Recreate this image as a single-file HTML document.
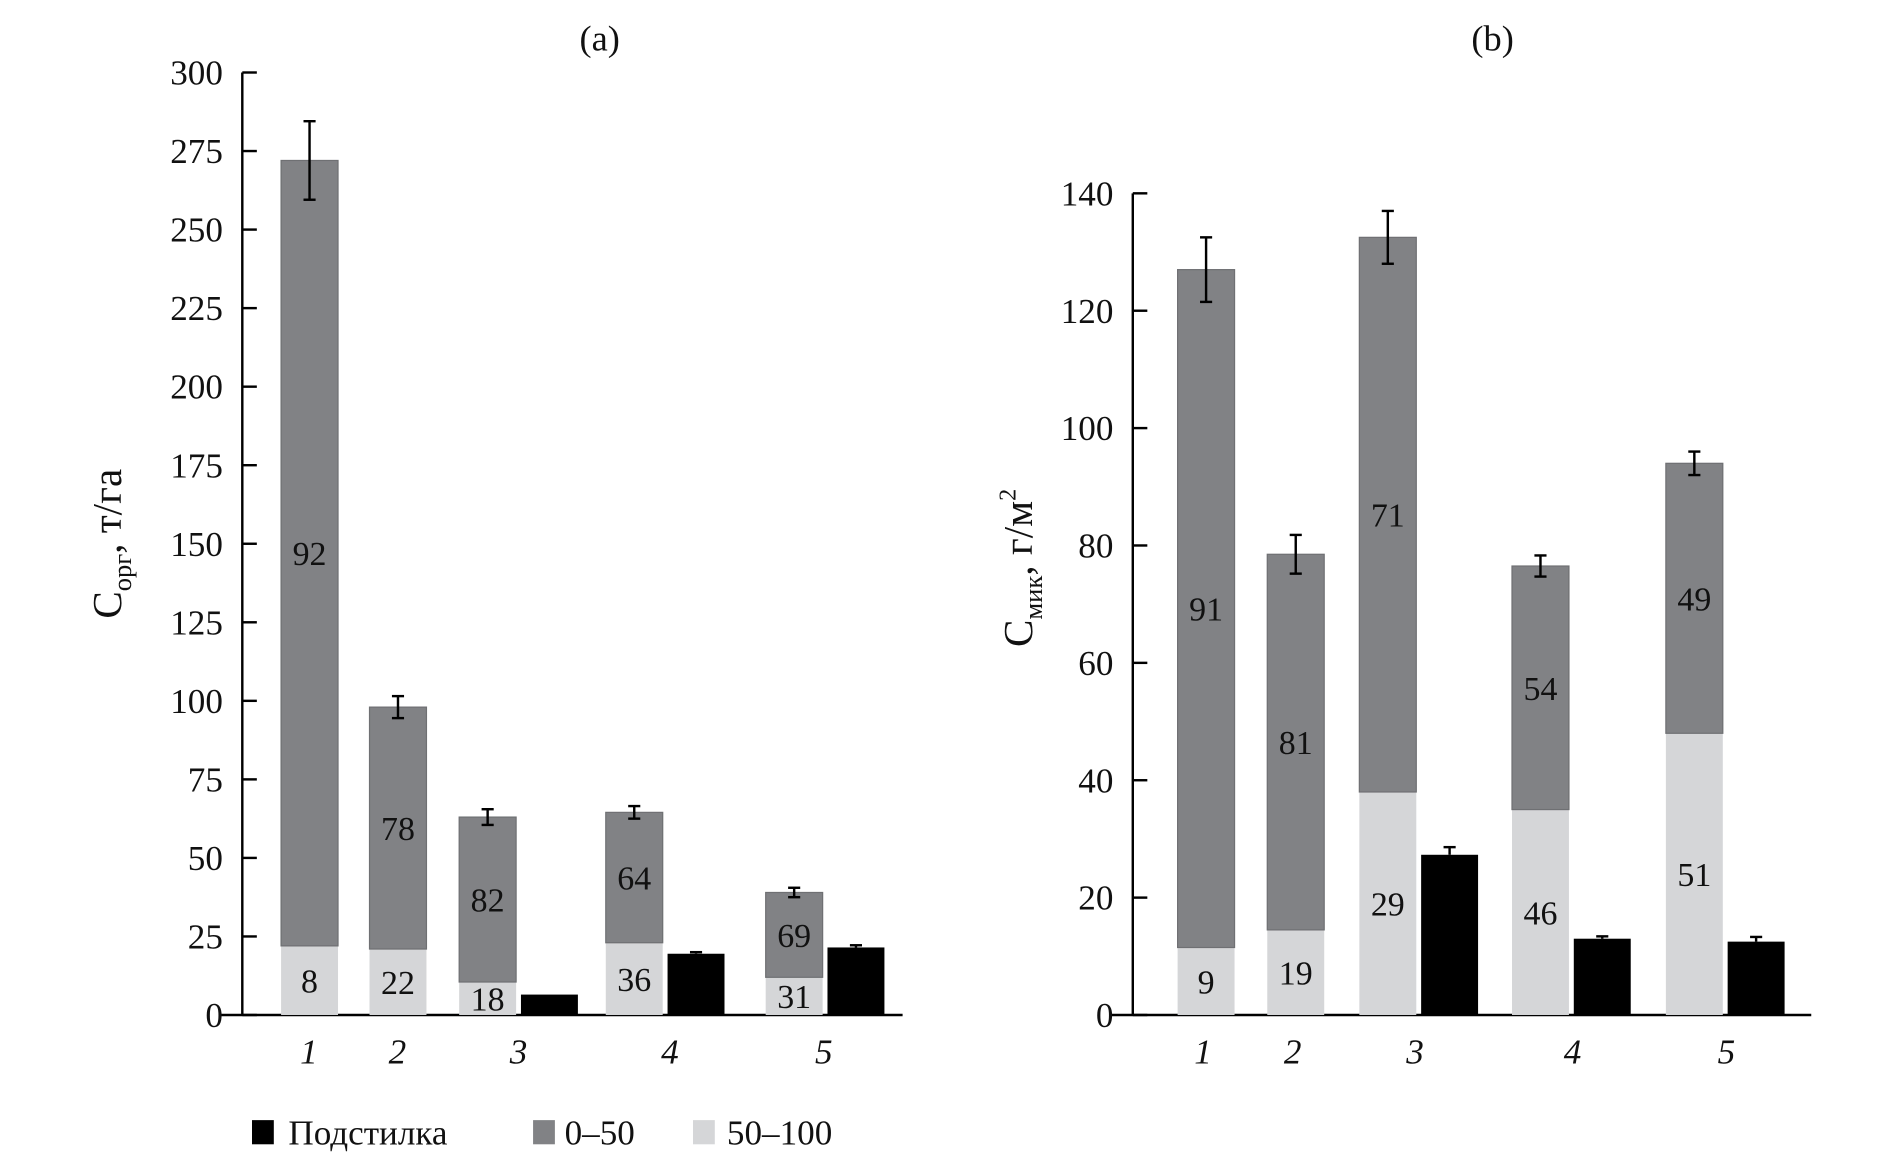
<!DOCTYPE html>
<html><head><meta charset="utf-8"><style>
html,body{margin:0;padding:0;background:#fff;}
svg{display:block;}
text{font-family:"Liberation Serif",serif;fill:#111;}
</style></head><body>
<svg id="chart" width="1890" height="1160" viewBox="0 0 1560 960" preserveAspectRatio="none" xmlns="http://www.w3.org/2000/svg"></svg>
<script>
// Panel (a)
const catsA = ["1","2","3","4","5"];
const deepA = [22, 21, 10.5, 23, 12];        // 50-100 cm
const totalA = [272, 98, 63, 64.5, 39];      // top of stack
const errA = [12.5, 3.5, 2.5, 2, 1.5];
const litterA = [null, null, 6.5, 19.5, 21.5];
const litterErrA = [0, 0, 0, 0.5, 0.7];
const topLblA = ["92","78","82","64","69"];
const botLblA = ["8","22","18","36","31"];
const ticksA = [0,25,50,75,100,125,150,175,200,225,250,275,300];
// Panel (b)
const catsB = ["1","2","3","4","5"];
const deepB = [11.5, 14.5, 38, 35, 48];
const totalB = [127, 78.5, 132.5, 76.5, 94];
const errB = [5.5, 3.3, 4.5, 1.8, 2];
const litterB = [null, null, 27.3, 13, 12.5];
const litterErrB = [0, 0, 1.3, 0.4, 0.8];
const topLblB = ["91","81","71","54","49"];
const botLblB = ["9","19","29","46","51"];
const ticksB = [0,20,40,60,80,100,120,140];

const svg = document.getElementById('chart');
const NS = 'http://www.w3.org/2000/svg';
function el(tag, attrs, parent){const e=document.createElementNS(NS,tag);for(const k in attrs)e.setAttribute(k,attrs[k]);(parent||svg).appendChild(e);return e;}

function panel(cfg){
  const g = el('g',{});
  
  
  const y = v => cfg.y0 - (v - 0) / cfg.max * (cfg.y0 - cfg.yTop);
  // axes
  const ax = el('line',{x1:cfg.ax,y1:cfg.yTop,x2:cfg.ax,y2:cfg.y0,stroke:'#000','stroke-width':2},g);
  
  
  const bx = el('line',{x1:cfg.ax-18,y1:cfg.y0,x2:cfg.right,y2:cfg.y0,stroke:'#000','stroke-width':2},g);
  
  
  cfg.ticks.forEach(t=>{
    el('line',{x1:cfg.ax,y1:y(t),x2:cfg.ax+12,y2:y(t),stroke:'#000','stroke-width':2},g);
    const tx = el('text',{x:cfg.ax-16,y:y(t)+10,'text-anchor':'end','font-size':29},g);
    tx.textContent = t;
    
    
  });
  cfg.cats.forEach((c,i)=>{
    const x = cfg.barX[i], w = 47;
    const r1 = el('rect',{x:x,y:y(cfg.deep[i]),width:w,height:y(0)-y(cfg.deep[i]),fill:'#d5d6d8'},g);
    
    
    const r2 = el('rect',{x:x,y:y(cfg.total[i]),width:w,height:y(cfg.deep[i])-y(cfg.total[i]),fill:'#818285',stroke:'#6f7073','stroke-width':1},g);
    
    
    const cx = x + w/2;
    el('line',{x1:cx,y1:y(cfg.total[i]+cfg.err[i]),x2:cx,y2:y(cfg.total[i]-cfg.err[i]),stroke:'#000','stroke-width':2},g);
    el('line',{x1:cx-5,y1:y(cfg.total[i]+cfg.err[i]),x2:cx+5,y2:y(cfg.total[i]+cfg.err[i]),stroke:'#000','stroke-width':2},g);
    el('line',{x1:cx-5,y1:y(cfg.total[i]-cfg.err[i]),x2:cx+5,y2:y(cfg.total[i]-cfg.err[i]),stroke:'#000','stroke-width':2},g);
    const tl = el('text',{x:cx,y:(y(cfg.total[i])+y(cfg.deep[i]))/2+10,'text-anchor':'middle','font-size':28},g);
    tl.textContent = cfg.topLbl[i];
    
    
    const bl = el('text',{x:cx,y:(y(cfg.deep[i])+y(0))/2+10,'text-anchor':'middle','font-size':28},g);
    bl.textContent = cfg.botLbl[i];
    
    
    if(cfg.litter[i]!==null){
      const lx = x + 51;
      const r3 = el('rect',{x:lx,y:y(cfg.litter[i]),width:47,height:y(0)-y(cfg.litter[i]),fill:'#000'},g);
      
      
      if(cfg.litterErr[i]>0){
        const lcx = lx+23.5;
        el('line',{x1:lcx-5,y1:y(cfg.litter[i]+cfg.litterErr[i]),x2:lcx+5,y2:y(cfg.litter[i]+cfg.litterErr[i]),stroke:'#000','stroke-width':2},g);
        el('line',{x1:lcx,y1:y(cfg.litter[i]+cfg.litterErr[i]),x2:lcx,y2:y(cfg.litter[i]),stroke:'#000','stroke-width':2},g);
      }
    }
    const xl = el('text',{x:cfg.lblX[i],y:cfg.y0+40,'text-anchor':'middle','font-size':29,'font-style':'italic'},g);
    xl.textContent = c;
    
    
  });
  const ti = el('text',{x:cfg.titleX,y:42,'text-anchor':'middle','font-size':30},g);
  ti.textContent = cfg.title;
  
  
}

panel({name:'panel-a',ax:200,y0:840,yTop:60,max:300,right:745,ticks:ticksA,cats:catsA,deep:deepA,total:totalA,err:errA,
  litter:litterA,litterErr:litterErrA,topLbl:topLblA,botLbl:botLblA,barX:[232,305,379,500,632],lblX:[255,328,428,553,680],title:'(a)',titleX:495});
panel({name:'panel-b',ax:935,y0:840,yTop:160,max:140,right:1495,ticks:ticksB,cats:catsB,deep:deepB,total:totalB,err:errB,
  litter:litterB,litterErr:litterErrB,topLbl:topLblB,botLbl:botLblB,barX:[972,1046,1122,1248,1375],lblX:[993,1067,1168,1298,1425],title:'(b)',titleX:1232});

// y-axis titles
const ya = el('text',{transform:'translate(100,450) rotate(-90)','text-anchor':'middle','font-size':34});
ya.innerHTML = 'C<tspan font-size="22" dy="8">орг</tspan><tspan dy="-8">, т/га</tspan>';


const yb = el('text',{transform:'translate(852,470) rotate(-90)','text-anchor':'middle','font-size':34});
yb.innerHTML = 'C<tspan font-size="22" dy="8">мик</tspan><tspan dy="-8">, г/м</tspan><tspan font-size="20" dy="-14">2</tspan>';



// legend
const legItems = [['#000','Подстилка',208,238],['#818285','0–50',440,466],['#d5d6d8','50–100',572,600]];
legItems.forEach(li=>{
  const g = el('g',{});
  
  
  el('rect',{x:li[2],y:927,width:18,height:20,fill:li[0]},g);
  const t = el('text',{x:li[3],y:947,'font-size':29},g);
  t.textContent = li[1];
});
</script>
</body></html>
